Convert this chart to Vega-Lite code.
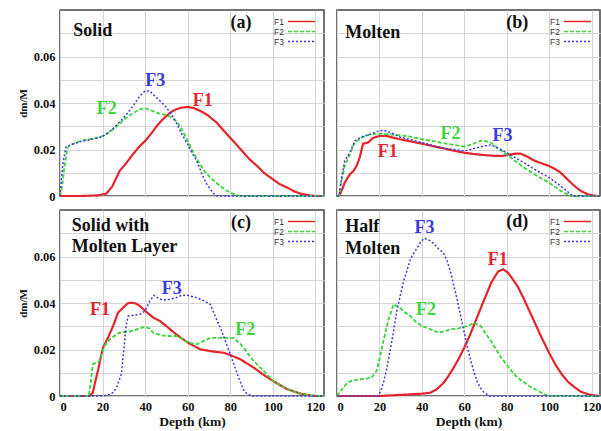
{
"$schema": "https://vega.github.io/schema/vega-lite/v6.json",
"padding": {"left": 16, "right": 0, "top": 9, "bottom": 0},
"background": "white",
"bounds": "flush",
"config": {
 "font": "Liberation Serif",
 "view": {"stroke": "#444", "strokeWidth": 1.5},
 "axis": {"gridColor": "#d4d4d4", "gridWidth": 1, "domain": false, "ticks": false, "labelFont": "Liberation Serif", "labelFontWeight": "bold", "labelFontSize": 12.5, "labelColor": "#111", "titleFont": "Liberation Serif", "titleFontWeight": "bold", "titleColor": "#111"},
 "axisX": {"labelPadding": 4, "titleFontSize": 13.5, "titlePadding": 2},
 "axisY": {"labelPadding": 5, "titleFontSize": 11, "titlePadding": 5},
 "legend": {"orient": "top-right", "offset": 6, "padding": 0, "labelFont": "Liberation Sans", "labelFontSize": 8.5, "labelColor": "#333", "symbolSize": 81, "symbolStrokeWidth": 1.5, "rowPadding": 0}
},
"datasets": {
 "curves": [
  {"panel":"a","series":"F1","depth":0,"value":0},{"panel":"a","series":"F1","depth":10,"value":0},{"panel":"a","series":"F1","depth":18,"value":0.0003},{"panel":"a","series":"F1","depth":21.7,"value":0.001},{"panel":"a","series":"F1","depth":24.5,"value":0.004},{"panel":"a","series":"F1","depth":28,"value":0.0108},{"panel":"a","series":"F1","depth":31,"value":0.014},{"panel":"a","series":"F1","depth":34.3,"value":0.018},{"panel":"a","series":"F1","depth":37,"value":0.021},{"panel":"a","series":"F1","depth":40,"value":0.0237},{"panel":"a","series":"F1","depth":43,"value":0.027},{"panel":"a","series":"F1","depth":45.4,"value":0.03},{"panel":"a","series":"F1","depth":48,"value":0.0327},{"panel":"a","series":"F1","depth":50,"value":0.0344},{"panel":"a","series":"F1","depth":52,"value":0.036},{"panel":"a","series":"F1","depth":54.6,"value":0.0373},{"panel":"a","series":"F1","depth":57,"value":0.038},{"panel":"a","series":"F1","depth":60,"value":0.0383},{"panel":"a","series":"F1","depth":63,"value":0.0378},{"panel":"a","series":"F1","depth":65.8,"value":0.0366},{"panel":"a","series":"F1","depth":69,"value":0.035},{"panel":"a","series":"F1","depth":71,"value":0.0335},{"panel":"a","series":"F1","depth":73.7,"value":0.0315},{"panel":"a","series":"F1","depth":77,"value":0.028},{"panel":"a","series":"F1","depth":80,"value":0.025},{"panel":"a","series":"F1","depth":83,"value":0.022},{"panel":"a","series":"F1","depth":86.3,"value":0.0186},{"panel":"a","series":"F1","depth":89,"value":0.0158},{"panel":"a","series":"F1","depth":92.6,"value":0.0129},{"panel":"a","series":"F1","depth":96,"value":0.0098},{"panel":"a","series":"F1","depth":100,"value":0.0072},{"panel":"a","series":"F1","depth":103,"value":0.0052},{"panel":"a","series":"F1","depth":106.8,"value":0.0036},{"panel":"a","series":"F1","depth":110,"value":0.002},{"panel":"a","series":"F1","depth":113,"value":0.001},{"panel":"a","series":"F1","depth":117.8,"value":0.0002},{"panel":"a","series":"F1","depth":120,"value":0},{"panel":"a","series":"F1","depth":124,"value":0},
  {"panel":"a","series":"F2","depth":0,"value":0},{"panel":"a","series":"F2","depth":1,"value":0.004},{"panel":"a","series":"F2","depth":2,"value":0.012},{"panel":"a","series":"F2","depth":3.6,"value":0.021},{"panel":"a","series":"F2","depth":5,"value":0.022},{"panel":"a","series":"F2","depth":7.6,"value":0.023},{"panel":"a","series":"F2","depth":10,"value":0.0238},{"panel":"a","series":"F2","depth":13.9,"value":0.0244},{"panel":"a","series":"F2","depth":17,"value":0.025},{"panel":"a","series":"F2","depth":20,"value":0.0258},{"panel":"a","series":"F2","depth":22.5,"value":0.027},{"panel":"a","series":"F2","depth":24.9,"value":0.0287},{"panel":"a","series":"F2","depth":28,"value":0.031},{"panel":"a","series":"F2","depth":31.2,"value":0.0337},{"panel":"a","series":"F2","depth":34,"value":0.0355},{"panel":"a","series":"F2","depth":37.5,"value":0.0373},{"panel":"a","series":"F2","depth":40,"value":0.0377},{"panel":"a","series":"F2","depth":42.5,"value":0.037},{"panel":"a","series":"F2","depth":45.4,"value":0.0358},{"panel":"a","series":"F2","depth":48,"value":0.0352},{"panel":"a","series":"F2","depth":50,"value":0.0348},{"panel":"a","series":"F2","depth":52,"value":0.034},{"panel":"a","series":"F2","depth":54.6,"value":0.0323},{"panel":"a","series":"F2","depth":57,"value":0.029},{"panel":"a","series":"F2","depth":60,"value":0.0237},{"panel":"a","series":"F2","depth":63,"value":0.018},{"panel":"a","series":"F2","depth":65.8,"value":0.0136},{"panel":"a","series":"F2","depth":68,"value":0.0105},{"panel":"a","series":"F2","depth":70.6,"value":0.0079},{"panel":"a","series":"F2","depth":73,"value":0.006},{"panel":"a","series":"F2","depth":75.3,"value":0.0043},{"panel":"a","series":"F2","depth":78,"value":0.0025},{"panel":"a","series":"F2","depth":80,"value":0.0014},{"panel":"a","series":"F2","depth":83,"value":0.0004},{"panel":"a","series":"F2","depth":85,"value":0},{"panel":"a","series":"F2","depth":124,"value":0},
  {"panel":"a","series":"F3","depth":0,"value":0},{"panel":"a","series":"F3","depth":1.3,"value":0.0136},{"panel":"a","series":"F3","depth":2.8,"value":0.021},{"panel":"a","series":"F3","depth":5,"value":0.022},{"panel":"a","series":"F3","depth":7.6,"value":0.0228},{"panel":"a","series":"F3","depth":10,"value":0.0235},{"panel":"a","series":"F3","depth":13.9,"value":0.0242},{"panel":"a","series":"F3","depth":17,"value":0.0248},{"panel":"a","series":"F3","depth":20,"value":0.0256},{"panel":"a","series":"F3","depth":22.5,"value":0.0272},{"panel":"a","series":"F3","depth":24.9,"value":0.029},{"panel":"a","series":"F3","depth":28,"value":0.0318},{"panel":"a","series":"F3","depth":31.2,"value":0.035},{"panel":"a","series":"F3","depth":34.3,"value":0.0387},{"panel":"a","series":"F3","depth":37.5,"value":0.043},{"panel":"a","series":"F3","depth":40,"value":0.0452},{"panel":"a","series":"F3","depth":42.2,"value":0.0451},{"panel":"a","series":"F3","depth":45.4,"value":0.0423},{"panel":"a","series":"F3","depth":48,"value":0.04},{"panel":"a","series":"F3","depth":50,"value":0.038},{"panel":"a","series":"F3","depth":52,"value":0.0355},{"panel":"a","series":"F3","depth":54.6,"value":0.0315},{"panel":"a","series":"F3","depth":57,"value":0.027},{"panel":"a","series":"F3","depth":60,"value":0.0222},{"panel":"a","series":"F3","depth":62,"value":0.0185},{"panel":"a","series":"F3","depth":64.3,"value":0.015},{"panel":"a","series":"F3","depth":66,"value":0.011},{"panel":"a","series":"F3","depth":67.4,"value":0.0079},{"panel":"a","series":"F3","depth":69,"value":0.005},{"panel":"a","series":"F3","depth":70.6,"value":0.0029},{"panel":"a","series":"F3","depth":72,"value":0.0012},{"panel":"a","series":"F3","depth":73.7,"value":0},{"panel":"a","series":"F3","depth":124,"value":0},
  {"panel":"b","series":"F1","depth":0,"value":0},{"panel":"b","series":"F1","depth":1,"value":0},{"panel":"b","series":"F1","depth":2.5,"value":0.003},{"panel":"b","series":"F1","depth":3.6,"value":0.0057},{"panel":"b","series":"F1","depth":6,"value":0.0093},{"panel":"b","series":"F1","depth":8,"value":0.011},{"panel":"b","series":"F1","depth":9.2,"value":0.0129},{"panel":"b","series":"F1","depth":10.7,"value":0.0165},{"panel":"b","series":"F1","depth":12.3,"value":0.0225},{"panel":"b","series":"F1","depth":14.7,"value":0.023},{"panel":"b","series":"F1","depth":17,"value":0.025},{"panel":"b","series":"F1","depth":20,"value":0.0258},{"panel":"b","series":"F1","depth":23.4,"value":0.0258},{"panel":"b","series":"F1","depth":26,"value":0.0252},{"panel":"b","series":"F1","depth":29.7,"value":0.0244},{"panel":"b","series":"F1","depth":35,"value":0.0234},{"panel":"b","series":"F1","depth":40,"value":0.0225},{"panel":"b","series":"F1","depth":45,"value":0.0215},{"panel":"b","series":"F1","depth":48.7,"value":0.0208},{"panel":"b","series":"F1","depth":55,"value":0.0195},{"panel":"b","series":"F1","depth":60,"value":0.0186},{"panel":"b","series":"F1","depth":65,"value":0.018},{"panel":"b","series":"F1","depth":69.5,"value":0.0176},{"panel":"b","series":"F1","depth":74,"value":0.0173},{"panel":"b","series":"F1","depth":77.4,"value":0.0172},{"panel":"b","series":"F1","depth":80,"value":0.0176},{"panel":"b","series":"F1","depth":81.8,"value":0.0179},{"panel":"b","series":"F1","depth":84,"value":0.0182},{"panel":"b","series":"F1","depth":86.6,"value":0.0182},{"panel":"b","series":"F1","depth":90,"value":0.0168},{"panel":"b","series":"F1","depth":92.9,"value":0.0153},{"panel":"b","series":"F1","depth":96,"value":0.0142},{"panel":"b","series":"F1","depth":100,"value":0.0129},{"panel":"b","series":"F1","depth":103,"value":0.0115},{"panel":"b","series":"F1","depth":105.5,"value":0.01},{"panel":"b","series":"F1","depth":108,"value":0.0078},{"panel":"b","series":"F1","depth":110.3,"value":0.0057},{"panel":"b","series":"F1","depth":113,"value":0.0035},{"panel":"b","series":"F1","depth":115,"value":0.0022},{"panel":"b","series":"F1","depth":118,"value":0.0008},{"panel":"b","series":"F1","depth":120,"value":0.0003},{"panel":"b","series":"F1","depth":123,"value":0},{"panel":"b","series":"F1","depth":124,"value":0},
  {"panel":"b","series":"F2","depth":0,"value":0},{"panel":"b","series":"F2","depth":1,"value":0},{"panel":"b","series":"F2","depth":2,"value":0.006},{"panel":"b","series":"F2","depth":3.6,"value":0.0129},{"panel":"b","series":"F2","depth":6,"value":0.0179},{"panel":"b","series":"F2","depth":8.4,"value":0.023},{"panel":"b","series":"F2","depth":11.5,"value":0.025},{"panel":"b","series":"F2","depth":15.5,"value":0.0265},{"panel":"b","series":"F2","depth":20,"value":0.0268},{"panel":"b","series":"F2","depth":25,"value":0.0265},{"panel":"b","series":"F2","depth":32.9,"value":0.0258},{"panel":"b","series":"F2","depth":40,"value":0.0244},{"panel":"b","series":"F2","depth":45,"value":0.0237},{"panel":"b","series":"F2","depth":48.7,"value":0.023},{"panel":"b","series":"F2","depth":55,"value":0.022},{"panel":"b","series":"F2","depth":60,"value":0.0212},{"panel":"b","series":"F2","depth":63.7,"value":0.0222},{"panel":"b","series":"F2","depth":66,"value":0.0232},{"panel":"b","series":"F2","depth":68.4,"value":0.0239},{"panel":"b","series":"F2","depth":72.4,"value":0.023},{"panel":"b","series":"F2","depth":76,"value":0.0205},{"panel":"b","series":"F2","depth":80,"value":0.0179},{"panel":"b","series":"F2","depth":84,"value":0.015},{"panel":"b","series":"F2","depth":88.2,"value":0.0122},{"panel":"b","series":"F2","depth":94,"value":0.0088},{"panel":"b","series":"F2","depth":100,"value":0.0057},{"panel":"b","series":"F2","depth":103,"value":0.0038},{"panel":"b","series":"F2","depth":105.5,"value":0.0022},{"panel":"b","series":"F2","depth":108,"value":0.001},{"panel":"b","series":"F2","depth":110.3,"value":0},{"panel":"b","series":"F2","depth":124,"value":0},
  {"panel":"b","series":"F3","depth":0,"value":0},{"panel":"b","series":"F3","depth":1,"value":0},{"panel":"b","series":"F3","depth":2,"value":0.007},{"panel":"b","series":"F3","depth":3.6,"value":0.015},{"panel":"b","series":"F3","depth":6,"value":0.0186},{"panel":"b","series":"F3","depth":8.4,"value":0.0237},{"panel":"b","series":"F3","depth":11.5,"value":0.0254},{"panel":"b","series":"F3","depth":15.5,"value":0.0265},{"panel":"b","series":"F3","depth":20,"value":0.0282},{"panel":"b","series":"F3","depth":23.4,"value":0.028},{"panel":"b","series":"F3","depth":26,"value":0.027},{"panel":"b","series":"F3","depth":29.7,"value":0.0254},{"panel":"b","series":"F3","depth":35,"value":0.0242},{"panel":"b","series":"F3","depth":40,"value":0.023},{"panel":"b","series":"F3","depth":48.7,"value":0.0208},{"panel":"b","series":"F3","depth":55,"value":0.02},{"panel":"b","series":"F3","depth":60,"value":0.0194},{"panel":"b","series":"F3","depth":63,"value":0.02},{"panel":"b","series":"F3","depth":66.3,"value":0.0208},{"panel":"b","series":"F3","depth":70,"value":0.0216},{"panel":"b","series":"F3","depth":72.6,"value":0.022},{"panel":"b","series":"F3","depth":75,"value":0.021},{"panel":"b","series":"F3","depth":77.4,"value":0.02},{"panel":"b","series":"F3","depth":82,"value":0.0176},{"panel":"b","series":"F3","depth":88.2,"value":0.0143},{"panel":"b","series":"F3","depth":94,"value":0.011},{"panel":"b","series":"F3","depth":100,"value":0.0079},{"panel":"b","series":"F3","depth":105.5,"value":0.0043},{"panel":"b","series":"F3","depth":108,"value":0.0025},{"panel":"b","series":"F3","depth":111,"value":0},{"panel":"b","series":"F3","depth":124,"value":0},
  {"panel":"c","series":"F1","depth":0,"value":0},{"panel":"c","series":"F1","depth":13.9,"value":0},{"panel":"c","series":"F1","depth":15.4,"value":0.0014},{"panel":"c","series":"F1","depth":16.5,"value":0.006},{"panel":"c","series":"F1","depth":17.8,"value":0.0108},{"panel":"c","series":"F1","depth":19,"value":0.016},{"panel":"c","series":"F1","depth":20.2,"value":0.0208},{"panel":"c","series":"F1","depth":22.5,"value":0.025},{"panel":"c","series":"F1","depth":24.9,"value":0.03},{"panel":"c","series":"F1","depth":27.2,"value":0.0358},{"panel":"c","series":"F1","depth":29.6,"value":0.038},{"panel":"c","series":"F1","depth":32,"value":0.04},{"panel":"c","series":"F1","depth":34.3,"value":0.0401},{"panel":"c","series":"F1","depth":36,"value":0.0396},{"panel":"c","series":"F1","depth":37.5,"value":0.0387},{"panel":"c","series":"F1","depth":40,"value":0.0366},{"panel":"c","series":"F1","depth":43.8,"value":0.0337},{"panel":"c","series":"F1","depth":46.9,"value":0.0323},{"panel":"c","series":"F1","depth":50,"value":0.03},{"panel":"c","series":"F1","depth":54.6,"value":0.0265},{"panel":"c","series":"F1","depth":60,"value":0.023},{"panel":"c","series":"F1","depth":65.8,"value":0.0201},{"panel":"c","series":"F1","depth":72.1,"value":0.0191},{"panel":"c","series":"F1","depth":76.8,"value":0.0186},{"panel":"c","series":"F1","depth":80,"value":0.0176},{"panel":"c","series":"F1","depth":84.7,"value":0.0158},{"panel":"c","series":"F1","depth":91,"value":0.0122},{"panel":"c","series":"F1","depth":95,"value":0.0095},{"panel":"c","series":"F1","depth":100,"value":0.0065},{"panel":"c","series":"F1","depth":106.8,"value":0.0029},{"panel":"c","series":"F1","depth":113,"value":0.001},{"panel":"c","series":"F1","depth":117.8,"value":0.0002},{"panel":"c","series":"F1","depth":120,"value":0},{"panel":"c","series":"F1","depth":124,"value":0},
  {"panel":"c","series":"F2","depth":0,"value":0},{"panel":"c","series":"F2","depth":13.5,"value":0},{"panel":"c","series":"F2","depth":14.5,"value":0.006},{"panel":"c","series":"F2","depth":15.4,"value":0.0136},{"panel":"c","series":"F2","depth":17,"value":0.0145},{"panel":"c","series":"F2","depth":18.6,"value":0.015},{"panel":"c","series":"F2","depth":19.5,"value":0.018},{"panel":"c","series":"F2","depth":20.9,"value":0.0215},{"panel":"c","series":"F2","depth":22.5,"value":0.0235},{"panel":"c","series":"F2","depth":24,"value":0.025},{"panel":"c","series":"F2","depth":28,"value":0.0272},{"panel":"c","series":"F2","depth":34.3,"value":0.028},{"panel":"c","series":"F2","depth":37,"value":0.029},{"panel":"c","series":"F2","depth":40,"value":0.0297},{"panel":"c","series":"F2","depth":42,"value":0.029},{"panel":"c","series":"F2","depth":43.8,"value":0.0272},{"panel":"c","series":"F2","depth":47,"value":0.0262},{"panel":"c","series":"F2","depth":50,"value":0.0258},{"panel":"c","series":"F2","depth":54.6,"value":0.0258},{"panel":"c","series":"F2","depth":57,"value":0.0248},{"panel":"c","series":"F2","depth":60,"value":0.023},{"panel":"c","series":"F2","depth":64.3,"value":0.0222},{"panel":"c","series":"F2","depth":67,"value":0.0235},{"panel":"c","series":"F2","depth":70.6,"value":0.025},{"panel":"c","series":"F2","depth":76.8,"value":0.025},{"panel":"c","series":"F2","depth":81.5,"value":0.025},{"panel":"c","series":"F2","depth":84,"value":0.023},{"panel":"c","series":"F2","depth":86.3,"value":0.0208},{"panel":"c","series":"F2","depth":88.5,"value":0.018},{"panel":"c","series":"F2","depth":91,"value":0.015},{"panel":"c","series":"F2","depth":95.7,"value":0.0108},{"panel":"c","series":"F2","depth":100,"value":0.0065},{"panel":"c","series":"F2","depth":106.8,"value":0.0029},{"panel":"c","series":"F2","depth":113,"value":0.001},{"panel":"c","series":"F2","depth":117.8,"value":0.0002},{"panel":"c","series":"F2","depth":120,"value":0},{"panel":"c","series":"F2","depth":124,"value":0},
  {"panel":"c","series":"F3","depth":0,"value":0},{"panel":"c","series":"F3","depth":20,"value":0},{"panel":"c","series":"F3","depth":23.3,"value":0.0007},{"panel":"c","series":"F3","depth":25,"value":0.0015},{"panel":"c","series":"F3","depth":26.5,"value":0.0036},{"panel":"c","series":"F3","depth":28.8,"value":0.0093},{"panel":"c","series":"F3","depth":30,"value":0.02},{"panel":"c","series":"F3","depth":31,"value":0.03},{"panel":"c","series":"F3","depth":32,"value":0.0344},{"panel":"c","series":"F3","depth":35,"value":0.0348},{"panel":"c","series":"F3","depth":37.5,"value":0.0351},{"panel":"c","series":"F3","depth":40,"value":0.0366},{"panel":"c","series":"F3","depth":42.2,"value":0.0409},{"panel":"c","series":"F3","depth":44.1,"value":0.0433},{"panel":"c","series":"F3","depth":46.9,"value":0.0416},{"panel":"c","series":"F3","depth":50,"value":0.0413},{"panel":"c","series":"F3","depth":54.6,"value":0.0423},{"panel":"c","series":"F3","depth":57,"value":0.0433},{"panel":"c","series":"F3","depth":60,"value":0.0433},{"panel":"c","series":"F3","depth":64.3,"value":0.0423},{"panel":"c","series":"F3","depth":68,"value":0.0408},{"panel":"c","series":"F3","depth":70.6,"value":0.0394},{"panel":"c","series":"F3","depth":73,"value":0.034},{"panel":"c","series":"F3","depth":75.3,"value":0.0294},{"panel":"c","series":"F3","depth":80,"value":0.0179},{"panel":"c","series":"F3","depth":83.9,"value":0.0079},{"panel":"c","series":"F3","depth":86,"value":0.003},{"panel":"c","series":"F3","depth":87.9,"value":0.0007},{"panel":"c","series":"F3","depth":91,"value":0},{"panel":"c","series":"F3","depth":124,"value":0},
  {"panel":"d","series":"F1","depth":0,"value":0},{"panel":"d","series":"F1","depth":20,"value":0},{"panel":"d","series":"F1","depth":34.4,"value":0.0007},{"panel":"d","series":"F1","depth":40,"value":0.001},{"panel":"d","series":"F1","depth":44,"value":0.0014},{"panel":"d","series":"F1","depth":47,"value":0.0029},{"panel":"d","series":"F1","depth":50.3,"value":0.0057},{"panel":"d","series":"F1","depth":52.5,"value":0.0085},{"panel":"d","series":"F1","depth":55,"value":0.0122},{"panel":"d","series":"F1","depth":57.5,"value":0.0162},{"panel":"d","series":"F1","depth":60,"value":0.0208},{"panel":"d","series":"F1","depth":62.5,"value":0.0258},{"panel":"d","series":"F1","depth":64.7,"value":0.0308},{"panel":"d","series":"F1","depth":67,"value":0.036},{"panel":"d","series":"F1","depth":69.5,"value":0.0416},{"panel":"d","series":"F1","depth":72.7,"value":0.0487},{"panel":"d","series":"F1","depth":75.9,"value":0.0535},{"panel":"d","series":"F1","depth":78.3,"value":0.0545},{"panel":"d","series":"F1","depth":80.7,"value":0.053},{"panel":"d","series":"F1","depth":83,"value":0.05},{"panel":"d","series":"F1","depth":85.5,"value":0.0466},{"panel":"d","series":"F1","depth":88.5,"value":0.041},{"panel":"d","series":"F1","depth":91.8,"value":0.0344},{"panel":"d","series":"F1","depth":96,"value":0.026},{"panel":"d","series":"F1","depth":100,"value":0.0186},{"panel":"d","series":"F1","depth":103,"value":0.0135},{"panel":"d","series":"F1","depth":106,"value":0.0093},{"panel":"d","series":"F1","depth":109,"value":0.006},{"panel":"d","series":"F1","depth":112.3,"value":0.0036},{"panel":"d","series":"F1","depth":115,"value":0.0018},{"panel":"d","series":"F1","depth":118.6,"value":0.0007},{"panel":"d","series":"F1","depth":123,"value":0},{"panel":"d","series":"F1","depth":124,"value":0},
  {"panel":"d","series":"F2","depth":0,"value":0},{"panel":"d","series":"F2","depth":0.5,"value":0.0007},{"panel":"d","series":"F2","depth":2,"value":0.0025},{"panel":"d","series":"F2","depth":3.6,"value":0.0043},{"panel":"d","series":"F2","depth":5,"value":0.0058},{"panel":"d","series":"F2","depth":6.8,"value":0.0065},{"panel":"d","series":"F2","depth":10.7,"value":0.0072},{"panel":"d","series":"F2","depth":14,"value":0.0075},{"panel":"d","series":"F2","depth":16.3,"value":0.0079},{"panel":"d","series":"F2","depth":18.7,"value":0.0108},{"panel":"d","series":"F2","depth":20.3,"value":0.017},{"panel":"d","series":"F2","depth":21.9,"value":0.0237},{"panel":"d","series":"F2","depth":24.3,"value":0.033},{"panel":"d","series":"F2","depth":26.7,"value":0.0394},{"panel":"d","series":"F2","depth":28.5,"value":0.0385},{"panel":"d","series":"F2","depth":29.9,"value":0.0377},{"panel":"d","series":"F2","depth":32,"value":0.036},{"panel":"d","series":"F2","depth":34.6,"value":0.0344},{"panel":"d","series":"F2","depth":37,"value":0.032},{"panel":"d","series":"F2","depth":40,"value":0.0301},{"panel":"d","series":"F2","depth":44.1,"value":0.0287},{"panel":"d","series":"F2","depth":48,"value":0.0272},{"panel":"d","series":"F2","depth":50.5,"value":0.0278},{"panel":"d","series":"F2","depth":53.5,"value":0.0287},{"panel":"d","series":"F2","depth":57,"value":0.029},{"panel":"d","series":"F2","depth":60,"value":0.0297},{"panel":"d","series":"F2","depth":62.5,"value":0.0305},{"panel":"d","series":"F2","depth":64.7,"value":0.0315},{"panel":"d","series":"F2","depth":67.8,"value":0.0301},{"panel":"d","series":"F2","depth":70,"value":0.027},{"panel":"d","series":"F2","depth":72.6,"value":0.0237},{"panel":"d","series":"F2","depth":75,"value":0.02},{"panel":"d","series":"F2","depth":77.4,"value":0.0165},{"panel":"d","series":"F2","depth":80,"value":0.0135},{"panel":"d","series":"F2","depth":82.2,"value":0.0108},{"panel":"d","series":"F2","depth":85,"value":0.008},{"panel":"d","series":"F2","depth":88.5,"value":0.0057},{"panel":"d","series":"F2","depth":91.5,"value":0.0038},{"panel":"d","series":"F2","depth":94.8,"value":0.0022},{"panel":"d","series":"F2","depth":97.5,"value":0.0008},{"panel":"d","series":"F2","depth":100,"value":0},{"panel":"d","series":"F2","depth":124,"value":0},
  {"panel":"d","series":"F3","depth":0,"value":0},{"panel":"d","series":"F3","depth":19.5,"value":0},{"panel":"d","series":"F3","depth":20.5,"value":0.002},{"panel":"d","series":"F3","depth":21.9,"value":0.0057},{"panel":"d","series":"F3","depth":23.5,"value":0.012},{"panel":"d","series":"F3","depth":25,"value":0.0194},{"panel":"d","series":"F3","depth":26.5,"value":0.027},{"panel":"d","series":"F3","depth":28.2,"value":0.0366},{"panel":"d","series":"F3","depth":29.8,"value":0.043},{"panel":"d","series":"F3","depth":31.4,"value":0.0495},{"panel":"d","series":"F3","depth":33,"value":0.054},{"panel":"d","series":"F3","depth":34.6,"value":0.0588},{"panel":"d","series":"F3","depth":36.2,"value":0.0615},{"panel":"d","series":"F3","depth":37.8,"value":0.0638},{"panel":"d","series":"F3","depth":39.4,"value":0.066},{"panel":"d","series":"F3","depth":41,"value":0.0678},{"panel":"d","series":"F3","depth":42.5,"value":0.0675},{"panel":"d","series":"F3","depth":44.1,"value":0.0667},{"panel":"d","series":"F3","depth":45.7,"value":0.0655},{"panel":"d","series":"F3","depth":47.3,"value":0.0638},{"panel":"d","series":"F3","depth":49,"value":0.0625},{"panel":"d","series":"F3","depth":50.5,"value":0.061},{"panel":"d","series":"F3","depth":52,"value":0.058},{"panel":"d","series":"F3","depth":53.6,"value":0.053},{"panel":"d","series":"F3","depth":55.2,"value":0.047},{"panel":"d","series":"F3","depth":56.8,"value":0.0409},{"panel":"d","series":"F3","depth":58.4,"value":0.034},{"panel":"d","series":"F3","depth":60,"value":0.0272},{"panel":"d","series":"F3","depth":61.5,"value":0.021},{"panel":"d","series":"F3","depth":63.1,"value":0.015},{"panel":"d","series":"F3","depth":64.7,"value":0.01},{"panel":"d","series":"F3","depth":66.3,"value":0.0057},{"panel":"d","series":"F3","depth":68,"value":0.003},{"panel":"d","series":"F3","depth":69.5,"value":0.0014},{"panel":"d","series":"F3","depth":71.9,"value":0},{"panel":"d","series":"F3","depth":124,"value":0}
 ],
 "labels": [
  {"panel":"a","series":"F1","text":"F1","depth":67,"value":0.0407},{"panel":"a","series":"F2","text":"F2","depth":22,"value":0.0373},{"panel":"a","series":"F3","text":"F3","depth":44.7,"value":0.0493},
  {"panel":"b","series":"F1","text":"F1","depth":23.9,"value":0.019},{"panel":"b","series":"F2","text":"F2","depth":53.5,"value":0.0266},{"panel":"b","series":"F3","text":"F3","depth":78,"value":0.026},
  {"panel":"c","series":"F1","text":"F1","depth":18.8,"value":0.0371},{"panel":"c","series":"F2","text":"F2","depth":87,"value":0.0286},{"panel":"c","series":"F3","text":"F3","depth":52.5,"value":0.0461},
  {"panel":"d","series":"F1","text":"F1","depth":75.8,"value":0.0586},{"panel":"d","series":"F2","text":"F2","depth":42,"value":0.0372},{"panel":"d","series":"F3","text":"F3","depth":41.3,"value":0.0724}
 ],
 "titles": [
  {"panel":"a","text":"Solid","depth":6.2,"value":0.0709},
  {"panel":"b","text":"Molten","depth":3.9,"value":0.07},
  {"panel":"c","text":"Solid with","depth":5.5,"value":0.0733},{"panel":"c","text":"Molten Layer","depth":5.5,"value":0.0639},
  {"panel":"d","text":"Half","depth":3.9,"value":0.0729},{"panel":"d","text":"Molten","depth":3.9,"value":0.0631}
 ],
 "tags": [
  {"panel":"a","text":"(a)","depth":85,"value":0.0746},{"panel":"b","text":"(b)","depth":85,"value":0.0746},{"panel":"c","text":"(c)","depth":85,"value":0.0745},{"panel":"d","text":"(d)","depth":85,"value":0.0747}
 ]
},
"columns": 2,
"spacing": {"row": 14, "column": 13},
"resolve": {"legend": {"color": "independent", "strokeDash": "independent"}},
"concat": [
 {"width": 264, "height": 186,
  "encoding": {
   "x": {"field": "depth", "type": "quantitative", "scale": {"domain": [0, 124], "nice": false, "zero": false}, "axis": {"values": [0,20,40,60,80,100,120], "labels": false, "title": null}},
   "y": {"field": "value", "type": "quantitative", "scale": {"domain": [0, 0.08], "nice": false}, "axis": {"values": [0,0.01,0.02,0.03,0.04,0.05,0.06,0.07], "labelExpr": "datum.value === 0 ? '0' : (round(datum.value*100) % 2 === 0 ? format(datum.value, '.2f') : '')", "title": "dm/M"}}
  },
  "layer": [
   {"data": {"name": "curves"}, "transform": [{"filter": "datum.panel === 'a'"}], "mark": {"type": "line", "strokeCap": "butt"},
    "encoding": {
     "color": {"field": "series", "type": "nominal", "scale": {"domain": ["F1","F2","F3"], "range": ["#e3262b","#3cd63c","#3b3bdc"]}, "legend": {"title": null, "symbolType": "M-3,0H3", "labelAlign": "right", "labelOffset": -23}},
     "strokeDash": {"field": "series", "type": "nominal", "scale": {"domain": ["F1","F2","F3"], "range": [[1,0],[4,2],[2,2]]}, "legend": {"title": null, "symbolType": "M-3,0H3", "labelAlign": "right", "labelOffset": -23}},
     "strokeWidth": {"field": "series", "type": "nominal", "scale": {"domain": ["F1","F2","F3"], "range": [2.2,1.5,1.5]}, "legend": null}}},
   {"data": {"name": "labels"}, "transform": [{"filter": "datum.panel === 'a'"}], "mark": {"type": "text", "fontSize": 18, "fontWeight": "bold", "font": "Liberation Serif"},
    "encoding": {"text": {"field": "text"}, "color": {"field": "series", "type": "nominal", "legend": null}}},
   {"data": {"name": "titles"}, "transform": [{"filter": "datum.panel === 'a'"}], "mark": {"type": "text", "align": "left", "fontSize": 18, "fontWeight": "bold", "font": "Liberation Serif", "color": "#111"},
    "encoding": {"text": {"field": "text"}}},
   {"data": {"name": "tags"}, "transform": [{"filter": "datum.panel === 'a'"}], "mark": {"type": "text", "align": "center", "fontSize": 18, "fontWeight": "bold", "font": "Liberation Serif", "color": "#111"},
    "encoding": {"text": {"field": "text"}}}
  ]},
 {"width": 263, "height": 186,
  "encoding": {
   "x": {"field": "depth", "type": "quantitative", "scale": {"domain": [0, 124], "nice": false, "zero": false}, "axis": {"values": [0,20,40,60,80,100,120], "labels": false, "title": null}},
   "y": {"field": "value", "type": "quantitative", "scale": {"domain": [0, 0.08], "nice": false}, "axis": {"values": [0,0.01,0.02,0.03,0.04,0.05,0.06,0.07], "labels": false, "title": null}}
  },
  "layer": [
   {"data": {"name": "curves"}, "transform": [{"filter": "datum.panel === 'b'"}], "mark": {"type": "line", "strokeCap": "butt"},
    "encoding": {
     "color": {"field": "series", "type": "nominal", "scale": {"domain": ["F1","F2","F3"], "range": ["#e3262b","#3cd63c","#3b3bdc"]}, "legend": {"title": null, "symbolType": "M-3,0H3", "labelAlign": "right", "labelOffset": -23}},
     "strokeDash": {"field": "series", "type": "nominal", "scale": {"domain": ["F1","F2","F3"], "range": [[1,0],[4,2],[2,2]]}, "legend": {"title": null, "symbolType": "M-3,0H3", "labelAlign": "right", "labelOffset": -23}},
     "strokeWidth": {"field": "series", "type": "nominal", "scale": {"domain": ["F1","F2","F3"], "range": [2.2,1.5,1.5]}, "legend": null}}},
   {"data": {"name": "labels"}, "transform": [{"filter": "datum.panel === 'b'"}], "mark": {"type": "text", "fontSize": 18, "fontWeight": "bold", "font": "Liberation Serif"},
    "encoding": {"text": {"field": "text"}, "color": {"field": "series", "type": "nominal", "legend": null}}},
   {"data": {"name": "titles"}, "transform": [{"filter": "datum.panel === 'b'"}], "mark": {"type": "text", "align": "left", "fontSize": 18, "fontWeight": "bold", "font": "Liberation Serif", "color": "#111"},
    "encoding": {"text": {"field": "text"}}},
   {"data": {"name": "tags"}, "transform": [{"filter": "datum.panel === 'b'"}], "mark": {"type": "text", "align": "center", "fontSize": 18, "fontWeight": "bold", "font": "Liberation Serif", "color": "#111"},
    "encoding": {"text": {"field": "text"}}}
  ]},
 {"width": 264, "height": 186,
  "encoding": {
   "x": {"field": "depth", "type": "quantitative", "scale": {"domain": [0, 124], "nice": false, "zero": false}, "axis": {"values": [0,20,40,60,80,100,120], "title": "Depth (km)"}},
   "y": {"field": "value", "type": "quantitative", "scale": {"domain": [0, 0.08], "nice": false}, "axis": {"values": [0,0.01,0.02,0.03,0.04,0.05,0.06,0.07], "labelExpr": "datum.value === 0 ? '0' : (round(datum.value*100) % 2 === 0 ? format(datum.value, '.2f') : '')", "title": "dm/M"}}
  },
  "layer": [
   {"data": {"name": "curves"}, "transform": [{"filter": "datum.panel === 'c'"}], "mark": {"type": "line", "strokeCap": "butt"},
    "encoding": {
     "color": {"field": "series", "type": "nominal", "scale": {"domain": ["F1","F2","F3"], "range": ["#e3262b","#3cd63c","#3b3bdc"]}, "legend": {"title": null, "symbolType": "M-3,0H3", "labelAlign": "right", "labelOffset": -23}},
     "strokeDash": {"field": "series", "type": "nominal", "scale": {"domain": ["F1","F2","F3"], "range": [[1,0],[4,2],[2,2]]}, "legend": {"title": null, "symbolType": "M-3,0H3", "labelAlign": "right", "labelOffset": -23}},
     "strokeWidth": {"field": "series", "type": "nominal", "scale": {"domain": ["F1","F2","F3"], "range": [2.2,1.5,1.5]}, "legend": null}}},
   {"data": {"name": "labels"}, "transform": [{"filter": "datum.panel === 'c'"}], "mark": {"type": "text", "fontSize": 18, "fontWeight": "bold", "font": "Liberation Serif"},
    "encoding": {"text": {"field": "text"}, "color": {"field": "series", "type": "nominal", "legend": null}}},
   {"data": {"name": "titles"}, "transform": [{"filter": "datum.panel === 'c'"}], "mark": {"type": "text", "align": "left", "fontSize": 18, "fontWeight": "bold", "font": "Liberation Serif", "color": "#111"},
    "encoding": {"text": {"field": "text"}}},
   {"data": {"name": "tags"}, "transform": [{"filter": "datum.panel === 'c'"}], "mark": {"type": "text", "align": "center", "fontSize": 18, "fontWeight": "bold", "font": "Liberation Serif", "color": "#111"},
    "encoding": {"text": {"field": "text"}}}
  ]},
 {"width": 263, "height": 186,
  "encoding": {
   "x": {"field": "depth", "type": "quantitative", "scale": {"domain": [0, 124], "nice": false, "zero": false}, "axis": {"values": [0,20,40,60,80,100,120], "title": "Depth (km)"}},
   "y": {"field": "value", "type": "quantitative", "scale": {"domain": [0, 0.08], "nice": false}, "axis": {"values": [0,0.01,0.02,0.03,0.04,0.05,0.06,0.07], "labels": false, "title": null}}
  },
  "layer": [
   {"data": {"name": "curves"}, "transform": [{"filter": "datum.panel === 'd'"}], "mark": {"type": "line", "strokeCap": "butt"},
    "encoding": {
     "color": {"field": "series", "type": "nominal", "scale": {"domain": ["F1","F2","F3"], "range": ["#e3262b","#3cd63c","#3b3bdc"]}, "legend": {"title": null, "symbolType": "M-3,0H3", "labelAlign": "right", "labelOffset": -23}},
     "strokeDash": {"field": "series", "type": "nominal", "scale": {"domain": ["F1","F2","F3"], "range": [[1,0],[4,2],[2,2]]}, "legend": {"title": null, "symbolType": "M-3,0H3", "labelAlign": "right", "labelOffset": -23}},
     "strokeWidth": {"field": "series", "type": "nominal", "scale": {"domain": ["F1","F2","F3"], "range": [2.2,1.5,1.5]}, "legend": null}}},
   {"data": {"name": "labels"}, "transform": [{"filter": "datum.panel === 'd'"}], "mark": {"type": "text", "fontSize": 18, "fontWeight": "bold", "font": "Liberation Serif"},
    "encoding": {"text": {"field": "text"}, "color": {"field": "series", "type": "nominal", "legend": null}}},
   {"data": {"name": "titles"}, "transform": [{"filter": "datum.panel === 'd'"}], "mark": {"type": "text", "align": "left", "fontSize": 18, "fontWeight": "bold", "font": "Liberation Serif", "color": "#111"},
    "encoding": {"text": {"field": "text"}}},
   {"data": {"name": "tags"}, "transform": [{"filter": "datum.panel === 'd'"}], "mark": {"type": "text", "align": "center", "fontSize": 18, "fontWeight": "bold", "font": "Liberation Serif", "color": "#111"},
    "encoding": {"text": {"field": "text"}}}
  ]}
]
}
